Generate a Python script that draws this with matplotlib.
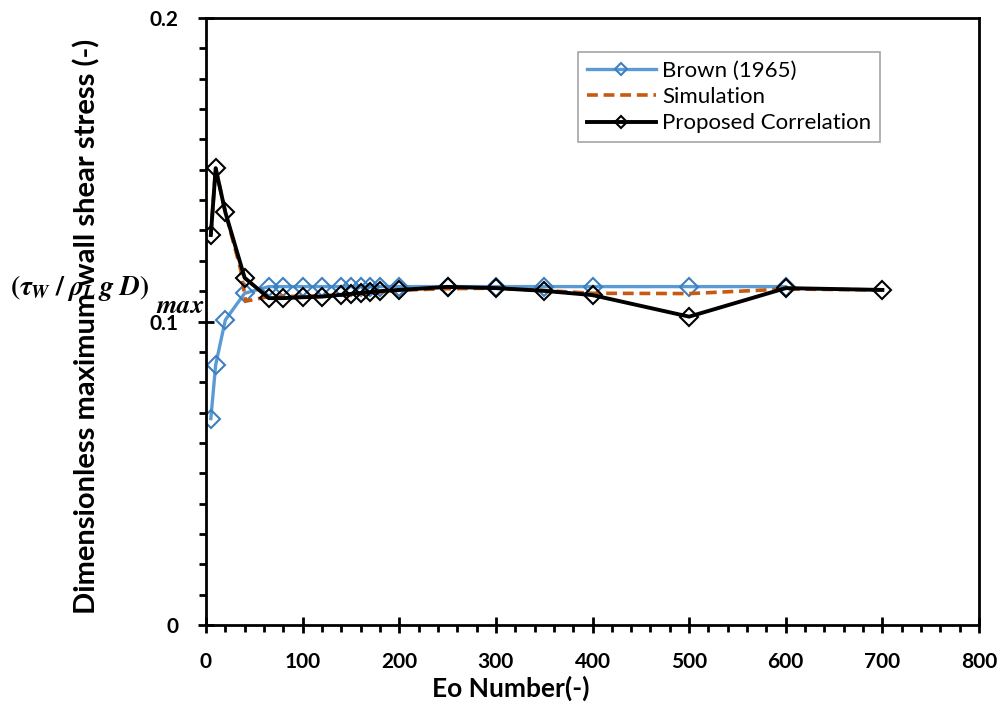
import matplotlib
matplotlib.use("Agg")
import matplotlib.pyplot as plt
from matplotlib.ticker import MultipleLocator

plt.rcParams['font.family'] = ['Lato', 'DejaVu Sans']
plt.rcParams['mathtext.fontset'] = 'custom'
plt.rcParams['mathtext.rm'] = 'STIXGeneral:bold'
plt.rcParams['mathtext.it'] = 'STIXGeneral:italic:bold'
plt.rcParams['mathtext.bf'] = 'STIXGeneral:bold'

# ---- data ----
eo_brown = [5, 10, 20, 40, 65, 80, 100, 120, 140, 150, 160, 170, 180, 200,
            250, 300, 350, 400, 500, 600]
brown = [0.068, 0.0857, 0.1005, 0.1093, 0.1115, 0.1115, 0.1115, 0.1115, 0.1115,
         0.1115, 0.1115, 0.1115, 0.1115, 0.1115, 0.1115, 0.1115, 0.1115, 0.1115,
         0.1115, 0.1115]

eo_sim = [5, 10, 20, 36, 41, 65, 100, 150, 200, 250, 300, 350, 400, 500, 600, 700]
sim = [0.1285, 0.1505, 0.136, 0.117, 0.1067, 0.1082, 0.1083, 0.1088, 0.1103,
       0.1108, 0.111, 0.1102, 0.1093, 0.1092, 0.1107, 0.1104]

eo_prop = [5, 10, 20, 40, 65, 80, 100, 120, 140, 150, 160, 170, 180, 200,
           250, 300, 350, 400, 500, 600, 700]
prop = [0.1285, 0.1505, 0.136, 0.1144, 0.1077, 0.1077, 0.1080, 0.1082, 0.1088,
        0.1091, 0.1094, 0.1097, 0.1100, 0.1104, 0.1114, 0.1110, 0.1101, 0.1087,
        0.1016, 0.1110, 0.1104]

labels = ["Brown (1965)", "Simulation", "Proposed Correlation"]
xticks = [0, 100, 200, 300, 400, 500, 600, 700, 800]
yticks = [0, 0.1, 0.2]
yticklabels = ["0", "0.1", "0.2"]

fig = plt.figure(figsize=(10, 7.2), dpi=100)
ax = fig.add_axes([0.206, 1 - 625 / 720, 0.773, 607 / 720])

ax.plot(eo_brown, brown, color='#5B9BD5', lw=2.4, marker='D', ms=9.5,
        mfc='none', mec='#3E7FC1', mew=1.5, label=labels[0], zorder=2)
ax.plot(eo_sim, sim, color='#C55A11', lw=2.6, ls=(0, (3, 1.6)),
        label=labels[1], zorder=3)
ax.plot(eo_prop, prop, color='black', lw=2.8, marker='D', ms=9.5,
        mfc='none', mec='black', mew=1.5, label=labels[2], zorder=4)

ax.set_xlim(0, 800)
ax.set_ylim(0, 0.2)
ax.set_xticks(xticks)
ax.set_xticklabels([str(t) for t in xticks])
ax.set_yticks(yticks)
ax.set_yticklabels(yticklabels)
ax.xaxis.set_minor_locator(MultipleLocator(20))
ax.yaxis.set_minor_locator(MultipleLocator(0.01))

for s in ax.spines.values():
    s.set_linewidth(2.0)
ax.tick_params(which='major', direction='inout', length=11, width=2,
               labelsize=15)
ax.tick_params(which='minor', direction='out', length=5, width=2)
ax.tick_params(axis='y', which='major', pad=14)
ax.tick_params(axis='x', which='major', pad=14)
for lab in ax.get_xticklabels() + ax.get_yticklabels():
    lab.set_fontweight('bold')

ax.set_xlabel("Eo Number(-)", fontsize=19, fontweight='bold')
ax.xaxis.set_label_coords((511 - 206) / 773, -0.083)
ax.set_ylabel("Dimensionless maximum wall shear stress (-)", fontsize=21,
              fontweight='bold')
ax.yaxis.set_label_coords(-0.137, 0.4926)

fig.text(0.010, 1 - 295 / 720, r'$(\tau_W\;/\;\rho_L\,g\;D)$',
         fontsize=20, ha='left', va='baseline')
fig.text(0.156, 1 - 313 / 720, r'$max$',
         fontsize=19, ha='left', va='baseline')

leg = ax.legend(loc='upper left', bbox_to_anchor=(0.481, 0.944),
                borderaxespad=0, fontsize=16, frameon=True, fancybox=False,
                edgecolor='#A6A6A6', framealpha=1, numpoints=1,
                markerscale=0.6, handlelength=3.1, labelspacing=0.28,
                borderpad=0.4, handletextpad=0.3)
leg.get_frame().set_linewidth(1.2)

fig.savefig("out.png", dpi=100)
